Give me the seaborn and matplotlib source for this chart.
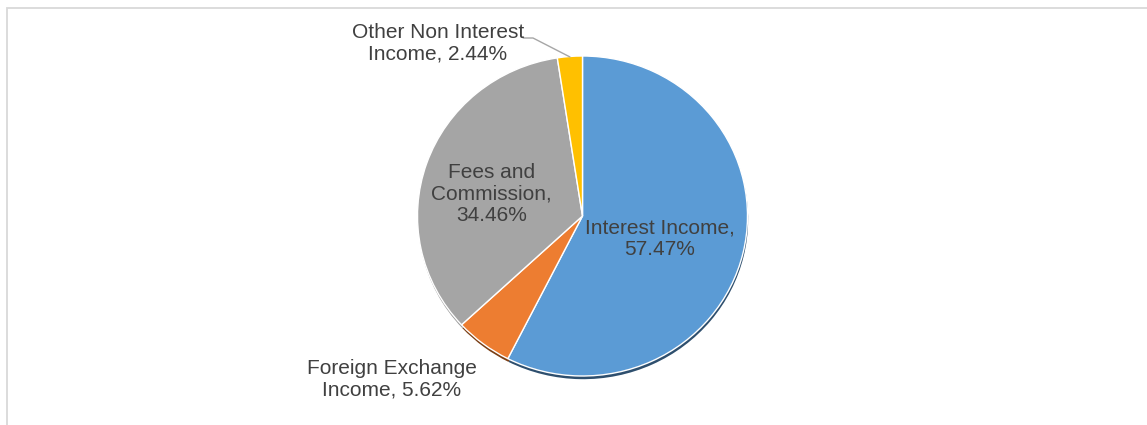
import matplotlib
matplotlib.use("Agg")
import matplotlib.pyplot as plt
from matplotlib.patches import Rectangle
import seaborn as sns

# Income composition
categories = ["Interest Income", "Foreign Exchange Income", "Fees and Commission", "Other Non Interest Income"]
shares = [57.47, 5.62, 34.46, 2.44]
label_texts = [
    "Interest Income,\n57.47%",
    "Foreign Exchange\nIncome, 5.62%",
    "Fees and\nCommission,\n34.46%",
    "Other Non Interest\nIncome, 2.44%",
]
colors = ["#5B9BD5", "#ED7D31", "#A5A5A5", "#FFC000"]
shadow_colors = ["#2E4F6E", "#7A3E14", "#9A9A9A", "#8A6600"]

sns.set_theme(style="white")
plt.rcParams["font.family"] = ["Liberation Sans", "DejaVu Sans"]

W, H = 1147, 425
fig = plt.figure(figsize=(W / 100, H / 100), dpi=100)
fig.patch.set_facecolor("white")

# pie centre and radii in pixels
cx, cy = 582.5, 209
rx, ry = 165, 160
ax = fig.add_axes([(cx - 1.2 * rx) / W, (cy - 1.2 * ry) / H, 2.4 * rx / W, 2.4 * ry / H])

# soft bevel under the pie
ax.pie(shares, colors=shadow_colors, startangle=90, counterclock=False,
       center=(0.004, -0.02), radius=1.0,
       wedgeprops=dict(linewidth=0))
ax.pie(shares, colors=colors, startangle=90, counterclock=False,
       center=(0, 0), radius=1.0,
       wedgeprops=dict(edgecolor="white", linewidth=1.0))

ax.set_xlim(-1.2, 1.2)
ax.set_ylim(-1.2, 1.2)
ax.set_aspect("auto")
ax.axis("off")

txt = dict(ha="center", va="center", fontsize=15, color="#404040",
           linespacing=1.17, clip_on=False)
label_pos = [(0.47, -0.144), (-1.155, -1.02), (-0.55, 0.1375), (-0.876, 1.08)]
for s, (lx, ly) in zip(label_texts, label_pos):
    ax.text(lx, ly, s, **txt)

# leader line for the small slice
ax.plot([-0.36, -0.30, -0.076], [1.1125, 1.1125, 0.994], color="#A6A6A6",
        linewidth=1.0, clip_on=False)

# chart-area frame
fig.patches.append(Rectangle((7.5 / W, -0.1), 2.0, (H - 8.5) / H + 0.1,
                             transform=fig.transFigure, fill=False,
                             edgecolor="#D9D9D9", linewidth=1.3))

fig.savefig("out.png", dpi=100, facecolor="white")
